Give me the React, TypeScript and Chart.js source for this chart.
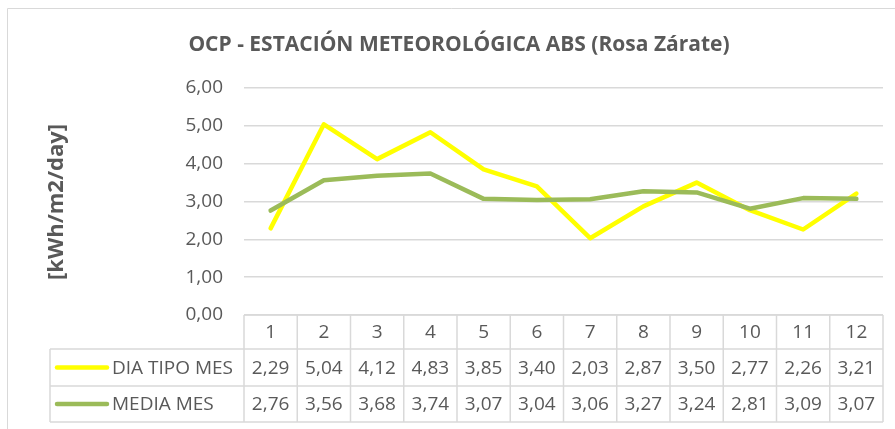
import React, { useEffect, useRef } from "react";
import { Chart, registerables } from "chart.js";

Chart.register(...registerables);

const categories = ["1", "2", "3", "4", "5", "6", "7", "8", "9", "10", "11", "12"];
const diaTipoMes = [2.29, 5.04, 4.12, 4.83, 3.85, 3.4, 2.03, 2.87, 3.5, 2.77, 2.26, 3.21];
const mediaMes = [2.76, 3.56, 3.68, 3.74, 3.07, 3.04, 3.06, 3.27, 3.24, 2.81, 3.09, 3.07];
const seriesNames = ["DIA TIPO MES", "MEDIA MES"];
const titleText = "OCP - ESTACIÓN METEOROLÓGICA ABS (Rosa Zárate)";
const yTitle = "[kWh/m2/day]";

const W = 895;
const H = 429;
const TEXT = "#595959";
const GRID = "#D9D9D9";
const YELLOW = "#FFFF00";
const GREEN = "#9BBB59";
const FONT = "'Open Sans', sans-serif";

const fmt = (v: number) => v.toFixed(2).replace(".", ",");

export default function App() {
  const ref = useRef<HTMLCanvasElement | null>(null);

  useEffect(() => {
    if (!ref.current) return;
    const tablePlugin = {
      id: "tablePlugin",
      afterDraw(chart: any) {
        const ctx = chart.ctx as CanvasRenderingContext2D;
        const a = chart.chartArea;
        const xs = chart.scales.x;
        const n = categories.length;
        const colW = (a.right - a.left) / n;
        const top = a.bottom;
        const r1 = top + 34;
        const r2 = r1 + 37;
        const r3 = r2 + 36;
        const legLeft = 50;
        ctx.save();
        ctx.setTransform(1, 0, 0, 1, 0, 0);
        // frame
        ctx.strokeStyle = GRID;
        ctx.lineWidth = 1;
        ctx.beginPath();
        ctx.moveTo(7.5, H);
        ctx.lineTo(7.5, 8.5);
        ctx.lineTo(W, 8.5);
        ctx.stroke();
        // table lines
        ctx.lineWidth = 1.5;
        ctx.beginPath();
        ctx.moveTo(a.left, top);
        ctx.lineTo(a.right, top);
        [r1, r2, r3].forEach((y) => {
          ctx.moveTo(legLeft, y);
          ctx.lineTo(a.right, y);
        });
        for (let i = 0; i <= n; i++) {
          const x = a.left + i * colW;
          ctx.moveTo(x, top);
          ctx.lineTo(x, r3);
        }
        ctx.moveTo(legLeft, r1);
        ctx.lineTo(legLeft, r3);
        ctx.stroke();
        // header labels
        ctx.fillStyle = TEXT;
        ctx.font = `19px ${FONT}`;
        ctx.textAlign = "center";
        ctx.textBaseline = "middle";
        categories.forEach((c, i) => {
          ctx.fillText(c, xs.getPixelForValue(i), (top + r1) / 2 + 1);
        });
        const rows = [
          { name: seriesNames[0], data: diaTipoMes, color: YELLOW, y: (r1 + r2) / 2 + 1 },
          { name: seriesNames[1], data: mediaMes, color: GREEN, y: (r2 + r3) / 2 + 1 },
        ];
        rows.forEach((r) => {
          ctx.textAlign = "center";
          r.data.forEach((v, i) => {
            ctx.fillText(fmt(v), xs.getPixelForValue(i), r.y);
          });
          ctx.strokeStyle = r.color;
          ctx.lineWidth = 4.5;
          ctx.lineCap = "round";
          ctx.beginPath();
          ctx.moveTo(57, r.y - 1);
          ctx.lineTo(107, r.y - 1);
          ctx.stroke();
          ctx.textAlign = "left";
          ctx.fillText(r.name, 112, r.y);
        });
        // title
        ctx.font = `bold 21px ${FONT}`;
        ctx.textAlign = "center";
        ctx.fillText(titleText, 459, 45);
        // y title
        ctx.translate(57, 202);
        ctx.rotate(-Math.PI / 2);
        ctx.font = `bold 22px ${FONT}`;
        ctx.textAlign = "center";
        ctx.textBaseline = "middle";
        ctx.fillText(yTitle, 0, 0);
        ctx.restore();
      },
    };

    const chart = new Chart(ref.current, {
      type: "line",
      data: {
        labels: categories,
        datasets: [
          {
            label: seriesNames[0],
            data: diaTipoMes,
            borderColor: YELLOW,
            backgroundColor: YELLOW,
            borderWidth: 4.5,
            pointRadius: 0,
            borderCapStyle: "round",
            borderJoinStyle: "round",
            order: 1,
          },
          {
            label: seriesNames[1],
            data: mediaMes,
            borderColor: GREEN,
            backgroundColor: GREEN,
            borderWidth: 4.5,
            pointRadius: 0,
            borderCapStyle: "round",
            borderJoinStyle: "round",
            order: 0,
          },
        ],
      },
      options: {
        responsive: false,
        animation: false,
        layout: { padding: { left: 0, top: 88, right: 12, bottom: 0 } },
        plugins: {
          legend: { display: false },
          title: { display: false },
          tooltip: { enabled: false },
        },
        scales: {
          x: {
            type: "category",
            offset: true,
            grid: { display: false },
            border: { display: false },
            ticks: { display: false },
            afterFit: (s: any) => {
              s.height = 114;
            },
          },
          y: {
            min: 0,
            max: 6,
            grid: { color: GRID, lineWidth: 1.5, drawTicks: false },
            border: { display: false },
            ticks: {
              stepSize: 1,
              padding: 21,
              color: TEXT,
              font: { family: "'Open Sans', sans-serif", size: 19 },
              callback: (v: any) => fmt(Number(v)),
            },
            afterFit: (s: any) => {
              s.width = 244;
            },
          },
        },
      },
      plugins: [tablePlugin],
    });
    return () => chart.destroy();
  }, []);

  return (
    <div style={{ position: "fixed", left: 0, top: 0, width: W, height: H, background: "#fff" }}>
      <canvas ref={ref} width={W} height={H} style={{ width: W, height: H, display: "block" }} />
    </div>
  );
}
